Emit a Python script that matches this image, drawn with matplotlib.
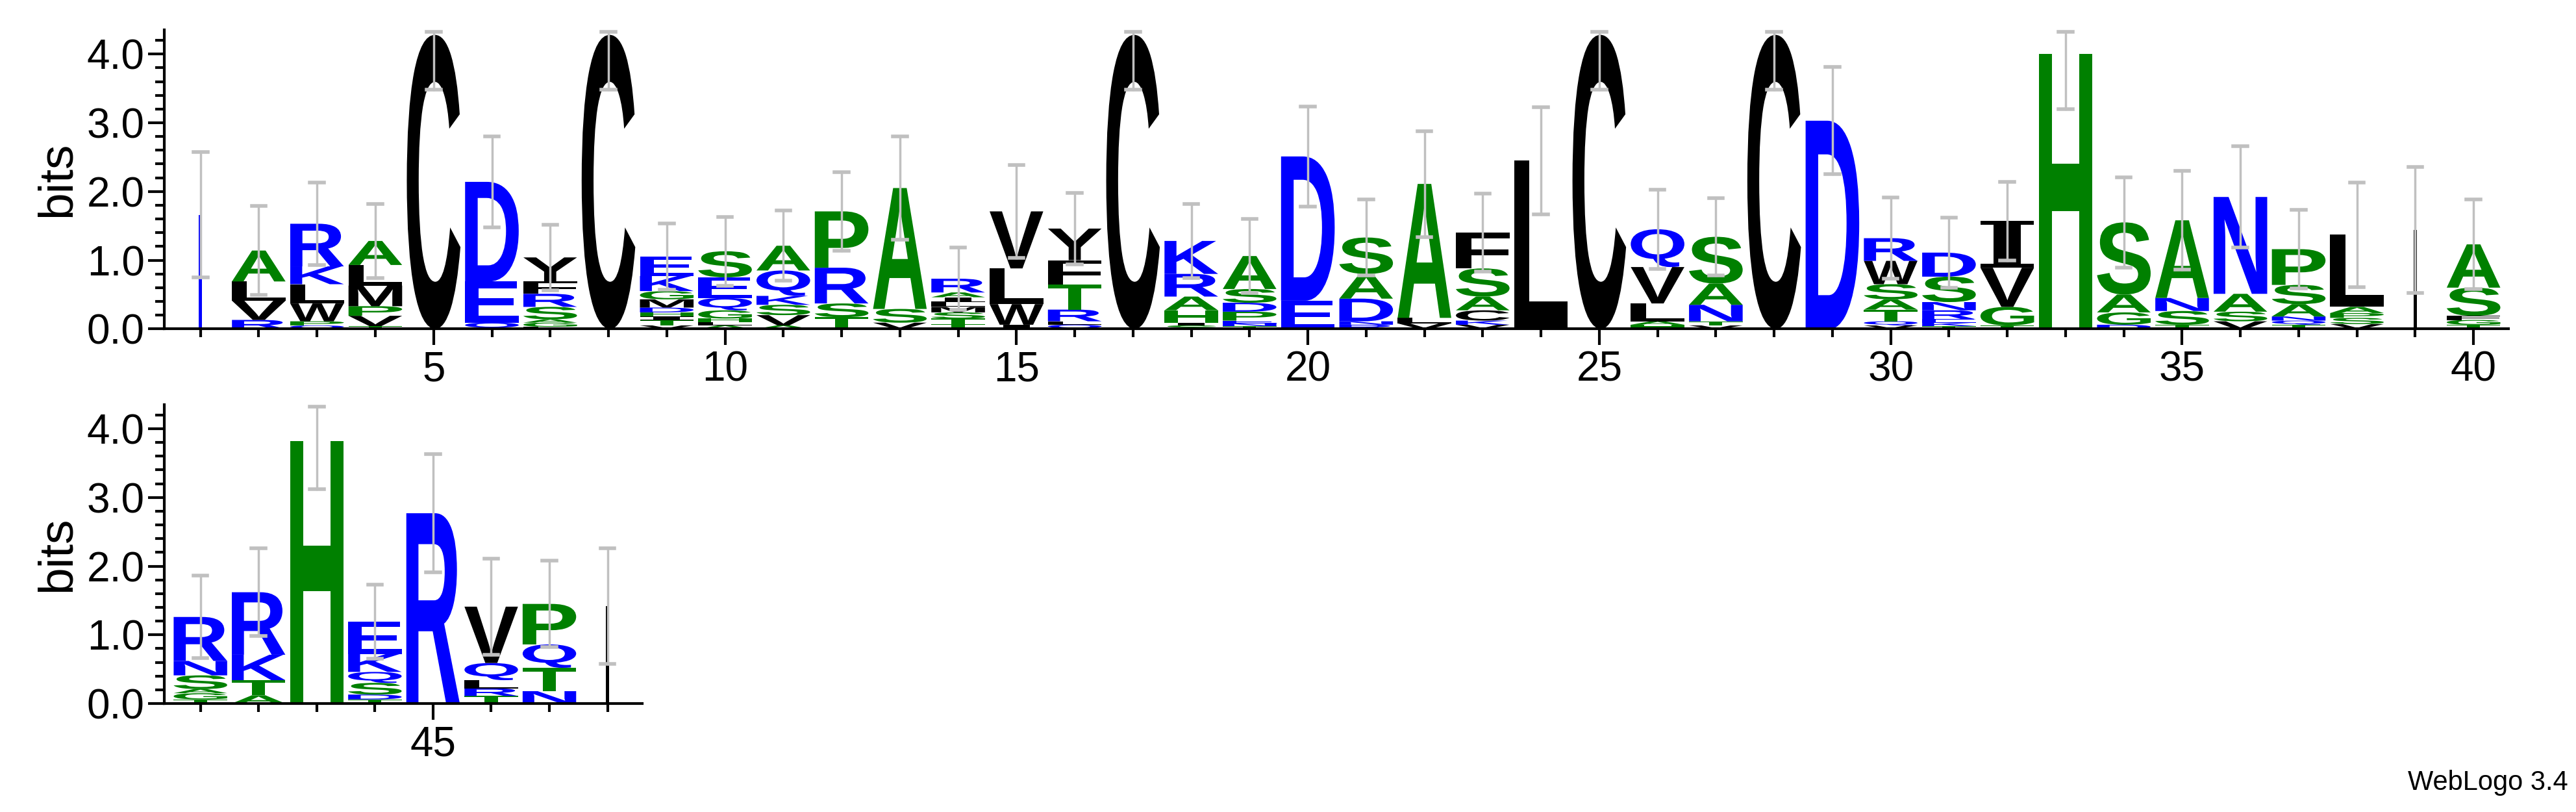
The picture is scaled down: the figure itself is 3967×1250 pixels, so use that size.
import matplotlib
matplotlib.use("Agg")
import matplotlib.pyplot as plt
from matplotlib.textpath import TextPath
from matplotlib.patches import PathPatch
from matplotlib.font_manager import FontProperties
from matplotlib.transforms import Affine2D
from matplotlib.ticker import MultipleLocator, FixedLocator

# letters per position, bottom -> top, with heights in bits
letters = [
    "|", "RVLA", "QPWLKR", "TVPMLA", "C", "QED", "LGASRFY", "C",
    "VTIHDMGKE", "ALHGQES", "AVSKQA", "TSRP", "VSA", "TTSMLIAR", "IWLV", "QLRTFY",
    "C", "SIHARK", "TNEPDSA", "ED", "RNDAS", "VLA", "VKCASF", "L",
    "C", "HALVQ", "VTNAS", "C", "D", "VQTASWR", "TKERNSD", "TGVI",
    "H", "DGAS", "TSNA", "VSAN", "TQNASP", "VSPAL", "|", "TGFSA",
    "TGASNR", "ATKR", "H", "TDSQKE", "R", "TRLQV", "NTQP", "|",
]
heights = [
    [1.66], [0.13, 0.28, 0.28, 0.45], [0.05, 0.06, 0.26, 0.28, 0.26, 0.62],
    [0.04, 0.15, 0.14, 0.3, 0.3, 0.35], [4.28], [0.09, 0.6, 1.45],
    [0.03, 0.06, 0.05, 0.18, 0.19, 0.18, 0.35], [4.28],
    [0.05, 0.08, 0.05, 0.06, 0.07, 0.12, 0.12, 0.22, 0.28],
    [0.05, 0.05, 0.05, 0.12, 0.18, 0.3, 0.38], [0.05, 0.15, 0.15, 0.13, 0.37, 0.36],
    [0.17, 0.2, 0.52, 0.82], [0.09, 0.2, 1.76],
    [0.07, 0.08, 0.09, 0.08, 0.07, 0.07, 0.07, 0.2], [0.06, 0.3, 0.52, 0.83],
    [0.06, 0.05, 0.17, 0.37, 0.35, 0.46], [4.28], [0.05, 0.04, 0.18, 0.2, 0.33, 0.48],
    [0.04, 0.04, 0.04, 0.13, 0.13, 0.2, 0.48], [0.41, 2.1], [0.06, 0.05, 0.33, 0.36, 0.53],
    [0.08, 0.08, 1.95], [0.06, 0.06, 0.15, 0.2, 0.41, 0.52], [2.45], [4.28],
    [0.06, 0.05, 0.26, 0.53, 0.55], [0.05, 0.06, 0.24, 0.31, 0.68], [4.28], [3.03],
    [0.05, 0.06, 0.17, 0.15, 0.22, 0.34, 0.33], [0.04, 0.05, 0.05, 0.13, 0.12, 0.37, 0.35],
    [0.05, 0.27, 0.57, 0.68], [4.0], [0.06, 0.18, 0.26, 1.05], [0.06, 0.2, 0.19, 1.13],
    [0.11, 0.14, 0.26, 1.41], [0.06, 0.06, 0.06, 0.18, 0.28, 0.52],
    [0.07, 0.09, 0.07, 0.09, 1.05], [1.44], [0.06, 0.07, 0.06, 0.41, 0.63],
    [0.06, 0.09, 0.06, 0.2, 0.21, 0.64], [0.12, 0.22, 0.37, 0.91], [3.82],
    [0.06, 0.07, 0.17, 0.16, 0.26, 0.47], [2.77], [0.11, 0.11, 0.12, 0.25, 0.82],
    [0.18, 0.34, 0.34, 0.59], [1.42],
]
# half-width of the error bars (bits)
errors = [
    0.91, 0.65, 0.6, 0.54, 0.8, 0.66, 0.48, 0.8, 0.48, 0.5, 0.51, 0.57, 0.75, 0.45, 0.68, 0.52,
    0.8, 0.54, 0.54, 0.73, 0.55, 0.77, 0.57, 0.78, 0.8, 0.58, 0.56, 0.8, 0.78, 0.59, 0.51, 0.57,
    0.8, 0.66, 0.72, 0.74, 0.57, 0.76, 0.92, 0.65, 0.6, 0.64, 0.7, 0.54, 0.86, 0.7, 0.63, 0.84,
]
thin_colors = {1: "blue", 39: "black", 48: "black"}

BLUE, GREEN, BLACK = "#0000ff", "#008000", "#000000"
colors = {}
for c in "DEKRNQ":
    colors[c] = BLUE
for c in "HASTGP":
    colors[c] = GREEN
for c in "CVLIMFWY":
    colors[c] = BLACK

sans = FontProperties(family="Liberation Sans", weight="bold")
serif = FontProperties(family="DejaVu Serif", weight="bold")
narrow = ["Liberation Sans Narrow", "Liberation Sans", "DejaVu Sans"]


def draw_letter(ax, ch, x, y, h, color, width=0.92):
    if h <= 0:
        return
    tp = TextPath((0, 0), ch, size=1, prop=serif if ch == "I" else sans)
    bb = tp.get_extents()
    tr = (Affine2D().translate(-bb.x0, -bb.y0)
          .scale(width / bb.width, h / bb.height)
          .translate(x - width / 2, y))
    ax.add_patch(PathPatch(tr.transform_path(tp), fc=color, ec="none", lw=0))


def draw_logo(ax, first, last):
    for pos in range(first, last + 1):
        i = pos - 1
        y = 0.0
        for ch, h in zip(letters[i], heights[i]):
            if ch == "|":
                col = BLUE if thin_colors[pos] == "blue" else BLACK
                ax.add_patch(plt.Rectangle((pos - 0.03, y), 0.06, h, fc=col, ec="none"))
            else:
                draw_letter(ax, ch, pos, y, h, colors[ch])
            y += h
        lo = max(y - errors[i], 0)
        hi = min(y + errors[i], 4.32)
        ax.plot([pos, pos], [lo, hi], color="#c0c0c0", lw=2.5, zorder=5)
        for yy in (lo, hi):
            ax.plot([pos - 0.12, pos + 0.12], [yy, yy], color="#c0c0c0", lw=4, zorder=5)


def style(ax, xmin, xmax, labelled):
    ax.set_xlim(xmin, xmax)
    ax.set_ylim(0, 4.35)
    for s in ("top", "right"):
        ax.spines[s].set_visible(False)
    ax.spines["left"].set_linewidth(3)
    ax.spines["bottom"].set_linewidth(3)
    ax.set_yticks([0, 1, 2, 3, 4])
    ax.set_yticklabels(["0.0", "1.0", "2.0", "3.0", "4.0"], family=narrow, fontsize=46)
    ax.yaxis.set_minor_locator(MultipleLocator(0.2))
    ax.tick_params(axis="y", which="major", length=18, width=3, direction="out", pad=4)
    ax.tick_params(axis="y", which="minor", length=10, width=3, direction="out")
    ax.xaxis.set_minor_locator(FixedLocator(list(range(int(xmin) + 1, int(xmax) + 1))))
    ax.set_xticks(labelled)
    ax.set_xticklabels([str(v) for v in labelled], family=narrow, fontsize=46)
    ax.tick_params(axis="x", which="major", length=18, width=3, pad=6)
    ax.tick_params(axis="x", which="minor", length=9, width=3)
    ax.set_ylabel("bits", fontsize=54, family="Liberation Sans", labelpad=8)


fig = plt.figure(figsize=(39.67, 12.5), dpi=100)
ax1 = fig.add_axes([0.0638, 0.595, 0.910, 0.368])
ax2 = fig.add_axes([0.0638, 0.1336, 0.1856, 0.368])

draw_logo(ax1, 1, 40)
style(ax1, 0.38, 40.6, [5, 10, 15, 20, 25, 30, 35, 40])
draw_logo(ax2, 41, 48)
style(ax2, 40.38, 48.6, [45])

fig.text(0.997, 0.02, "WebLogo 3.4", ha="right", va="bottom", fontsize=30, family="Liberation Sans")

fig.savefig("out.png", dpi=100)
